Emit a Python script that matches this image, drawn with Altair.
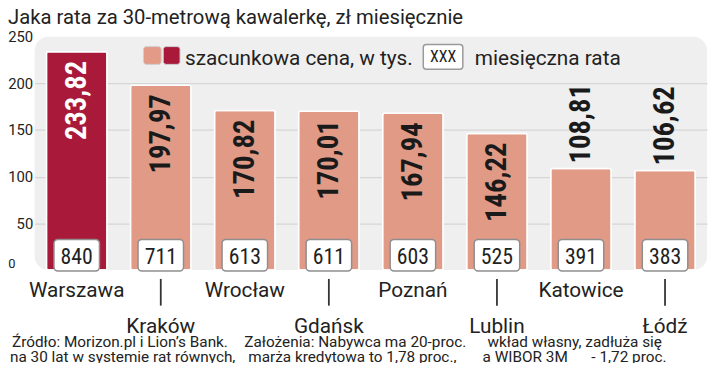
import altair as alt
import pandas as pd

cities = ["Warszawa", "Kraków", "Wrocław", "Gdańsk", "Poznań", "Lublin", "Katowice", "Łódź"]
price = [233.82, 197.97, 170.82, 170.01, 167.94, 146.22, 108.81, 106.62]
price_lbl = ["233,82", "197,97", "170,82", "170,01", "167,94", "146,22", "108,81", "106,62"]
rate = [840, 711, 613, 611, 603, 525, 391, 383]
y_ticks = [0, 50, 100, 150, 200, 250]

title_txt = "Jaka rata za 30-metrową kawalerkę, zł miesięcznie"
legend_price = "szacunkowa cena, w tys."
legend_rate = "miesięczna rata"
note_1 = ["Źródło: Morizon.pl i Lion’s Bank.", "Założenia: Nabywca ma 20-proc.", "wkład własny, zadłuża się"]
note_2 = ["na 30 lat w systemie rat równych,", "marża kredytowa to 1,78 proc.,", "a WIBOR 3M", "- 1,72 proc."]

SALMON = "#E09A86"
DARK = "#A8193A"
TXT = "#222222"
FONT = "Roboto"
NARROW = "Liberation Sans Narrow, Roboto Condensed, DejaVu Sans Condensed"

df = pd.DataFrame({"city": cities, "price": price, "lbl": price_lbl, "rate": rate})

xenc = alt.X("city:N", sort=cities, axis=None,
             scale=alt.Scale(paddingInner=0.28, paddingOuter=0.14))
yscale = alt.Scale(domain=[0, 250], nice=False)

base = alt.Chart(df).transform_window(idx="row_number()")

bars = base.mark_bar(stroke="white", strokeWidth=1.5, cornerRadius=2).encode(
    x=xenc,
    y=alt.Y("price:Q", scale=yscale, title=None,
            axis=alt.Axis(values=y_ticks, domain=False, ticks=False,
                          labelFont=FONT, labelColor=TXT,
                          labelFontSize={"condition": {"test": "datum.value == 0", "value": 13}, "value": 15},
                          labelPadding={"condition": {"test": "datum.value == 0", "value": 20}, "value": 2},
                          labelBaseline={"condition": {"test": "datum.value == 0", "value": "bottom"}, "value": "middle"},
                          gridColor="#D6D6D6", gridWidth=1.2,
                          gridOpacity={"condition": {"test": "datum.value == 0 || datum.value == 250", "value": 0}, "value": 1})),
    color=alt.condition(alt.datum.idx == 1, alt.value(DARK), alt.value(SALMON)),
)

lab_in = base.transform_filter(alt.datum.price > 120).mark_text(
    angle=270, align="right", baseline="middle", dx=-9,
    font=NARROW, fontWeight="bold", fontSize=29,
).encode(
    x=xenc, y=alt.Y("price:Q", scale=yscale), text="lbl:N",
    color=alt.condition(alt.datum.idx == 1, alt.value("white"), alt.value("#1a1a1a")),
)

lab_out = base.transform_filter(alt.datum.price <= 120).mark_text(
    angle=270, align="left", baseline="middle", dx=5,
    font=NARROW, fontWeight="bold", fontSize=29, color="#1a1a1a",
).encode(x=xenc, y=alt.Y("price:Q", scale=yscale), text="lbl:N")

boxes = base.mark_bar(width=46, fill="white", stroke="#8E8E8E", strokeWidth=1.5,
                      cornerRadius=4).encode(
    x=xenc, y=alt.value(205), y2=alt.value(237))

box_txt = base.mark_text(baseline="alphabetic", font=NARROW, fontSize=22, color=TXT).encode(
    x=xenc, y=alt.value(230), text="rate:Q")

row1 = base.transform_filter("datum.idx % 2 == 1").mark_text(
    baseline="alphabetic", font=FONT, fontSize=21, color=TXT).encode(
    x=xenc, y=alt.value(263), text="city:N")

row2_ticks = base.transform_filter("datum.idx % 2 == 0").mark_rule(
    color="#333333", strokeWidth=1.8).encode(
    x=xenc, y=alt.value(245), y2=alt.value(272))

row2 = base.transform_filter("datum.idx % 2 == 0").mark_text(
    baseline="alphabetic", font=FONT, fontSize=21, color=TXT).encode(
    x=xenc, y=alt.value(300), text="city:N")

one = alt.Data(values=[{"a": 1}])


def label(txt, x, y, size, font=FONT, align="left", baseline="alphabetic"):
    return alt.Chart(one).transform_calculate(t=f"'{txt}'").mark_text(
        align=align, baseline=baseline, font=font, fontSize=size, color=TXT).encode(
        x=alt.value(x), y=alt.value(y), text="t:N")


sw1 = alt.Chart(one).mark_rect(fill="#E39B87", stroke="#CFCFCF", strokeWidth=1, cornerRadius=3).encode(
    x=alt.value(110), x2=alt.value(128), y=alt.value(10), y2=alt.value(28))
sw2 = alt.Chart(one).mark_rect(fill=DARK, stroke="#CFCFCF", strokeWidth=1, cornerRadius=3).encode(
    x=alt.value(130), x2=alt.value(147), y=alt.value(10), y2=alt.value(28))
xbox = alt.Chart(one).mark_rect(fill="white", stroke="#9A9A9A", strokeWidth=1.5, cornerRadius=3).encode(
    x=alt.value(393), x2=alt.value(433), y=alt.value(8), y2=alt.value(33))

texts = [
    label(legend_price, 152, 29, 21),
    label("XXX", 413, 21, 16, font=NARROW, align="center", baseline="middle"),
    label(legend_rate, 445, 29, 21),
    label(title_txt, -27, -13, 20.5),
]
for chunk, x in zip(note_1, [-23, 212, 458]):
    texts.append(label(chunk, x, 314, 15.5))
for chunk, x in zip(note_2, [-25, 216, 453, 563]):
    texts.append(label(chunk, x, 329, 15.5))

chart = alt.layer(
    bars, lab_in, lab_out, boxes, box_txt, row1, row2_ticks, row2,
    sw1, sw2, xbox, *texts,
).properties(
    width=680, height=236,
    autosize=alt.AutoSizeParams(type="none"),
    padding={"left": 27, "top": 27, "right": 5, "bottom": 92},
    background="white",
).configure_view(fill="#EFEFEF", stroke=None, cornerRadius=14)

chart.save("out.html", embed_options={"renderer": "svg", "actions": False})
